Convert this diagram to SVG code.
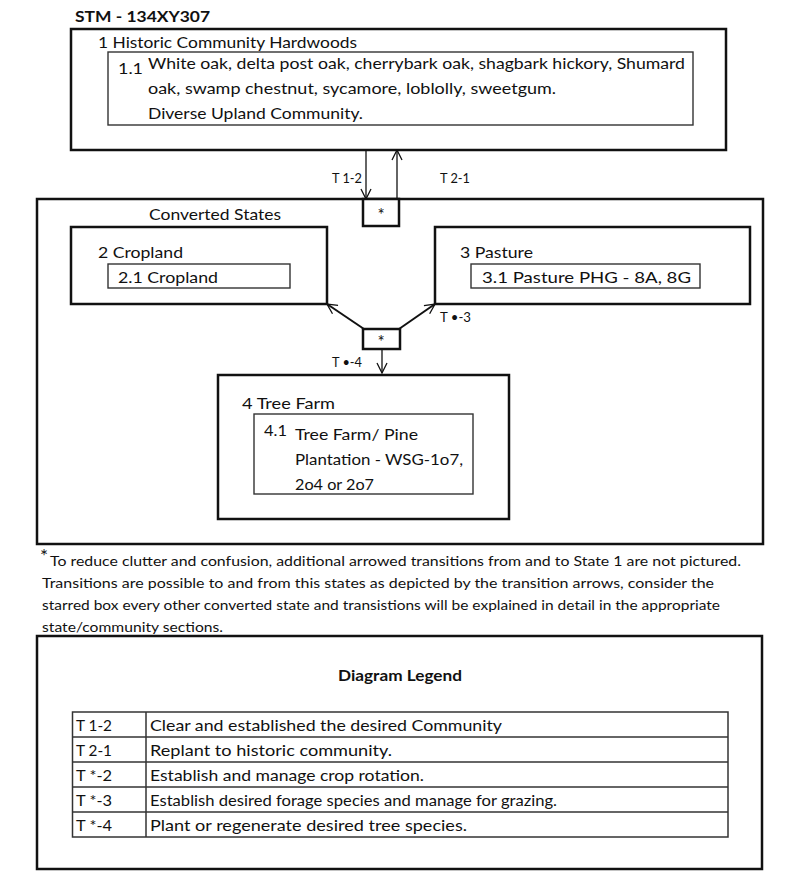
<svg xmlns="http://www.w3.org/2000/svg" width="800" height="889" viewBox="0 0 800 889">
<style>
text{font-family:Lato,"Open Sans","Liberation Sans",sans-serif;fill:#111}
.t16{font-size:16px}
.t15{font-size:15px}
.t13{font-size:13px}
.star{font-size:17px}
.b{font-weight:bold}
.box{fill:#fff;stroke:#111;stroke-width:2.5}
.inner{fill:#fff;stroke:#333;stroke-width:1.4}
.tab{fill:none;stroke:#333;stroke-width:1.5}
.conn{fill:none;stroke:#111;stroke-width:1.3}
.conn2{fill:none;stroke:#111;stroke-width:2}
</style>
<defs>
<marker id="ah" viewBox="0 0 12 12" refX="11" refY="6" markerWidth="12" markerHeight="12" markerUnits="userSpaceOnUse" orient="auto">
<path d="M1,1 L11,6 L1,11" fill="none" stroke="#111" stroke-width="1.3"/>
</marker>
</defs>
<rect width="800" height="889" fill="#fff"/>
<text x="75" y="22" class="t16 b" textLength="135" lengthAdjust="spacingAndGlyphs">STM - 134XY307</text>

<g id="state1">
<rect class="box" x="71" y="29" width="655" height="121"/>
<text x="98" y="48" class="t16" textLength="259" lengthAdjust="spacingAndGlyphs">1 Historic Community Hardwoods</text>
<rect class="inner" x="108" y="52" width="585" height="73"/>
<text x="118" y="74" class="t15" textLength="25" lengthAdjust="spacingAndGlyphs">1.1</text>
<text x="148" y="69" class="t16" textLength="537" lengthAdjust="spacingAndGlyphs">White oak, delta post oak, cherrybark oak, shagbark hickory, Shumard</text>
<text x="148" y="94" class="t16" textLength="408" lengthAdjust="spacingAndGlyphs">oak, swamp chestnut, sycamore, loblolly, sweetgum.</text>
<text x="148" y="119" class="t16" textLength="215" lengthAdjust="spacingAndGlyphs">Diverse Upland Community.</text>
</g>

<g id="converted">
<rect class="box" x="37" y="199" width="726" height="345"/>
<text x="149" y="220" class="t16" textLength="132" lengthAdjust="spacingAndGlyphs">Converted States</text>
</g>

<g id="star1">
<rect class="box" x="363" y="199" width="36" height="27" stroke-width="2"/>
<text x="381" y="221" class="star" text-anchor="middle">*</text>
</g>

<g id="state2">
<rect class="box" x="71" y="227" width="256" height="77"/>
<text x="98" y="258" class="t16" textLength="85" lengthAdjust="spacingAndGlyphs">2 Cropland</text>
<rect class="inner" x="108" y="264" width="182" height="24"/>
<text x="118" y="283" class="t16" textLength="100" lengthAdjust="spacingAndGlyphs">2.1 Cropland</text>
</g>

<g id="state3">
<rect class="box" x="435" y="227" width="315" height="77"/>
<text x="460" y="258" class="t16" textLength="73" lengthAdjust="spacingAndGlyphs">3 Pasture</text>
<rect class="inner" x="471" y="264" width="229" height="24"/>
<text x="482" y="283" class="t16" textLength="209" lengthAdjust="spacingAndGlyphs">3.1 Pasture PHG - 8A, 8G</text>
</g>

<g id="star2">
<rect class="box" x="363" y="329" width="37" height="20" stroke-width="2"/>
<text x="381" y="348" class="star" text-anchor="middle">*</text>
</g>

<g id="state4">
<rect class="box" x="218" y="375" width="291" height="144"/>
<text x="242" y="409" class="t16" textLength="93" lengthAdjust="spacingAndGlyphs">4 Tree Farm</text>
<rect class="inner" x="254" y="414" width="219" height="80"/>
<text x="264" y="436" class="t15" textLength="23" lengthAdjust="spacingAndGlyphs">4.1</text>
<text x="295" y="440" class="t16" textLength="123" lengthAdjust="spacingAndGlyphs">Tree Farm/ Pine</text>
<text x="295" y="465" class="t16" textLength="168" lengthAdjust="spacingAndGlyphs">Plantation - WSG-1o7,</text>
<text x="295" y="490" class="t16" textLength="79" lengthAdjust="spacingAndGlyphs">2o4 or 2o7</text>
</g>

<g id="connectors">
<line class="conn" x1="366" y1="150" x2="366" y2="199" marker-end="url(#ah)"/>
<line class="conn" x1="397" y1="199" x2="397" y2="150" marker-end="url(#ah)"/>
<line class="conn2" x1="364" y1="329" x2="327" y2="304" marker-end="url(#ah)"/>
<line class="conn2" x1="399" y1="329" x2="435" y2="304" marker-end="url(#ah)"/>
<line class="conn" x1="382" y1="349" x2="382" y2="373" marker-end="url(#ah)"/>
<text x="332" y="183" class="t13" textLength="30" lengthAdjust="spacingAndGlyphs">T 1-2</text>
<text x="440" y="183" class="t13" textLength="30" lengthAdjust="spacingAndGlyphs">T 2-1</text>
<text x="440" y="322" class="t13" textLength="31" lengthAdjust="spacingAndGlyphs">T •-3</text>
<text x="332" y="367" class="t13" textLength="30" lengthAdjust="spacingAndGlyphs">T •-4</text>
</g>

<g id="footnote">
<text x="40" y="563" style="font-size:19px">*</text>
<text x="50" y="566" class="t13" textLength="691" lengthAdjust="spacingAndGlyphs">To reduce clutter and confusion, additional arrowed transitions from and to State 1 are not pictured.</text>
<text x="42" y="588" class="t13" textLength="672" lengthAdjust="spacingAndGlyphs">Transitions are possible to and from this states as depicted by the transition arrows, consider the</text>
<text x="42" y="610" class="t13" textLength="678" lengthAdjust="spacingAndGlyphs">starred box every other converted state and transistions will be explained in detail in the appropriate</text>
<text x="42" y="632" class="t13" textLength="181" lengthAdjust="spacingAndGlyphs">state/community sections.</text>
</g>

<g id="legend">
<rect class="box" x="37" y="636" width="725" height="233"/>
<text x="400" y="681" class="t15 b" text-anchor="middle" textLength="124" lengthAdjust="spacingAndGlyphs">Diagram Legend</text>
<rect class="tab" x="72.5" y="712" width="655.5" height="125"/>
<line class="tab" x1="146" y1="712" x2="146" y2="837"/>
<line class="tab" x1="72.5" y1="737" x2="728" y2="737"/>
<line class="tab" x1="72.5" y1="762" x2="728" y2="762"/>
<line class="tab" x1="72.5" y1="787" x2="728" y2="787"/>
<line class="tab" x1="72.5" y1="812" x2="728" y2="812"/>
<text x="76" y="731" class="t16" textLength="36" lengthAdjust="spacingAndGlyphs">T 1-2</text>
<text x="76" y="756" class="t16" textLength="36" lengthAdjust="spacingAndGlyphs">T 2-1</text>
<text x="76" y="781" class="t16" textLength="36" lengthAdjust="spacingAndGlyphs">T *-2</text>
<text x="76" y="806" class="t16" textLength="36" lengthAdjust="spacingAndGlyphs">T *-3</text>
<text x="76" y="831" class="t16" textLength="36" lengthAdjust="spacingAndGlyphs">T *-4</text>
<text x="150" y="731" class="t16" textLength="352" lengthAdjust="spacingAndGlyphs">Clear and established the desired Community</text>
<text x="150" y="756" class="t16" textLength="242" lengthAdjust="spacingAndGlyphs">Replant to historic community.</text>
<text x="150" y="781" class="t16" textLength="274" lengthAdjust="spacingAndGlyphs">Establish and manage crop rotation.</text>
<text x="150" y="806" class="t16" textLength="407" lengthAdjust="spacingAndGlyphs">Establish desired forage species and manage for grazing.</text>
<text x="150" y="831" class="t16" textLength="317" lengthAdjust="spacingAndGlyphs">Plant or regenerate desired tree species.</text>
</g>
</svg>
